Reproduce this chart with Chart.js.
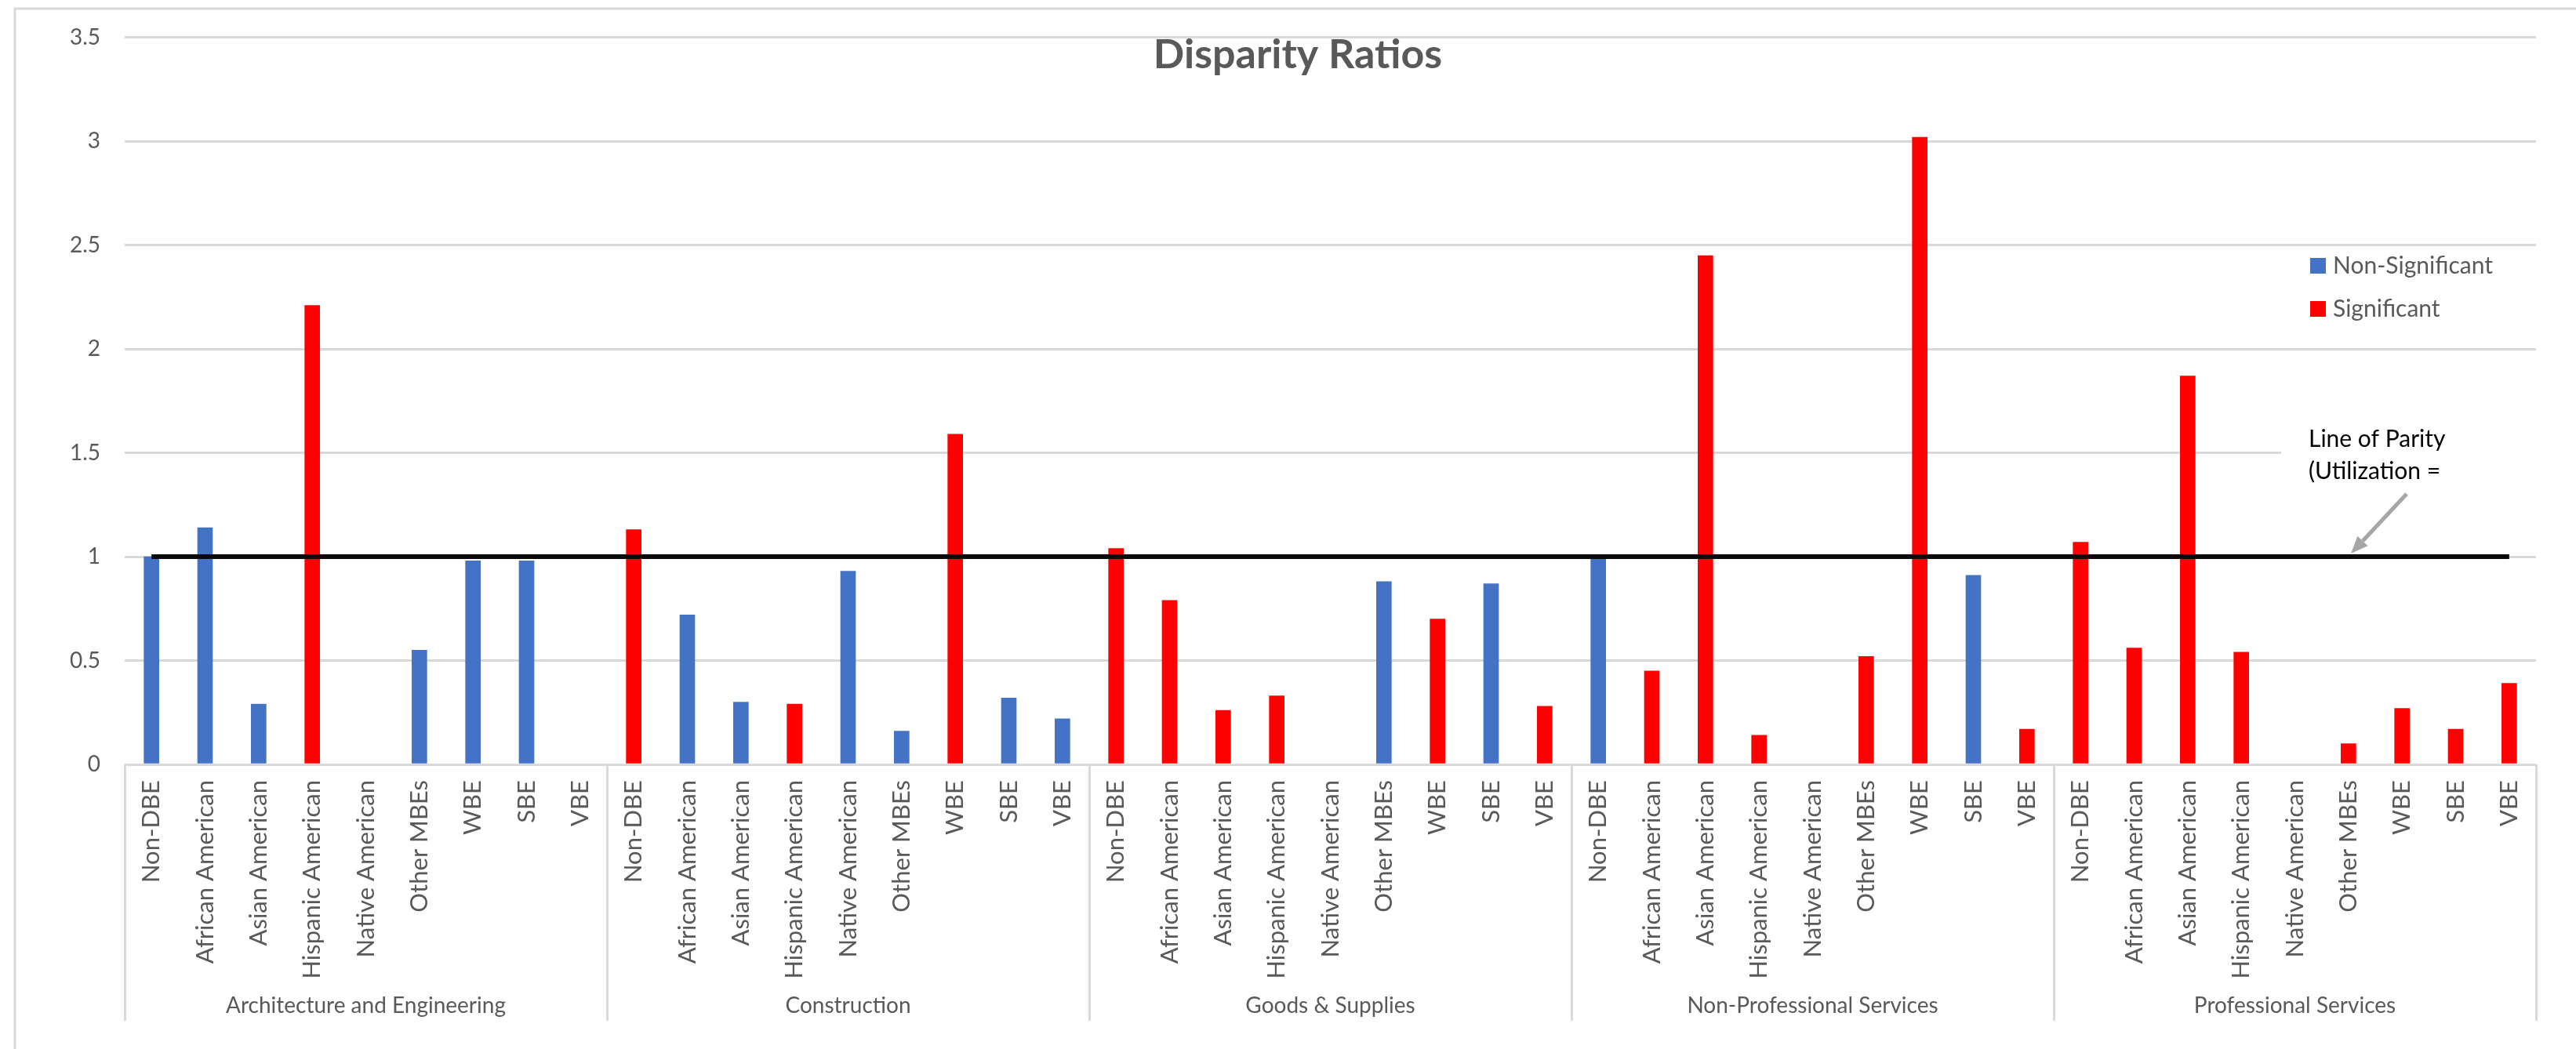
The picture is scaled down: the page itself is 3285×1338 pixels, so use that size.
<!DOCTYPE html>
<html>
<head>
<meta charset="utf-8">
<title>Disparity Ratios</title>
<script src="https://cdn.jsdelivr.net/npm/chart.js@4/dist/chart.umd.min.js"></script>
<style>
  html, body { margin: 0; padding: 0; background: #ffffff; }
  #wrap { width: 3285px; height: 1338px; position: relative; }
</style>
</head>
<body>
<div id="wrap"><canvas id="chart"></canvas></div>
<script>
// Industry groups and the business categories shown inside each group
const groups = ['Architecture and Engineering', 'Construction', 'Goods & Supplies', 'Non-Professional Services', 'Professional Services'];
const subgroups = ['Non-DBE', 'African American', 'Asian American', 'Hispanic American', 'Native American', 'Other MBEs', 'WBE', 'SBE', 'VBE'];

// Disparity ratios not statistically significant (null = no bar in that slot)
const nonSignificant = [
  1.00, 1.14, 0.29, null, null, 0.55, 0.98, 0.98, null,   // Architecture and Engineering
  null, 0.72, 0.30, null, 0.93, 0.16, null, 0.32, 0.22,   // Construction
  null, null, null, null, null, 0.88, null, 0.87, null,   // Goods & Supplies
  0.99, null, null, null, null, null, null, 0.91, null,   // Non-Professional Services
  null, null, null, null, null, null, null, null, null    // Professional Services
];

// Disparity ratios that are statistically significant
const significant = [
  null, null, null, 2.21, null, null, null, null, null,
  1.13, null, null, 0.29, null, null, 1.59, null, null,
  1.04, 0.79, 0.26, 0.33, null, null, 0.70, null, 0.28,
  null, 0.45, 2.45, 0.14, null, 0.52, 3.02, null, 0.17,
  1.07, 0.56, 1.87, 0.54, null, 0.10, 0.27, 0.17, 0.39
];

// Value axis ticks and the parity reference level
const yTicks = [0, 0.5, 1, 1.5, 2, 2.5, 3, 3.5];
const parityLevel = 1;

const chartTitle = 'Disparity Ratios';
const parityNote = ['Line of Parity', '(Utilization ='];

// One category per (group, subgroup) pair
const labels = [];
groups.forEach(() => subgroups.forEach(s => labels.push(s)));
const parityLine = labels.map(() => parityLevel);

const FONT = 'Lato, "Open Sans", "Liberation Sans", sans-serif';
const GREY_TEXT = '#595959';
const GRID = '#D9D9D9';
const AXIS_H = 327;

// White page, thin frame at top and left
const framePlugin = {
  id: 'frame',
  beforeDraw(chart) {
    const c = chart.ctx;
    c.save();
    c.fillStyle = '#ffffff';
    c.fillRect(0, 0, chart.width, chart.height);
    c.strokeStyle = GRID;
    c.lineWidth = 3;
    c.beginPath();
    c.moveTo(19, chart.height);
    c.lineTo(19, 11);
    c.lineTo(chart.width, 11);
    c.stroke();
    c.restore();
  }
};

// Title drawn over the top of the plot area
const titlePlugin = {
  id: 'overTitle',
  afterDraw(chart) {
    const c = chart.ctx;
    c.save();
    c.font = 'bold 52px ' + FONT;
    c.fillStyle = GREY_TEXT;
    c.textAlign = 'center';
    c.textBaseline = 'alphabetic';
    c.fillText(chartTitle, 1655, 87);
    c.restore();
  }
};

// Second level of the category axis: group dividers and group names
const groupAxisPlugin = {
  id: 'groupAxis',
  afterDraw(chart) {
    const x = chart.scales.x;
    const c = chart.ctx;
    const top = chart.chartArea.bottom;
    const bottom = top + AXIS_H;
    const n = labels.length;
    const step = (x.right - x.left) / n;
    c.save();
    c.strokeStyle = GRID;
    c.lineWidth = 3;
    for (let gi = 0; gi <= groups.length; gi++) {
      const px = Math.round(x.left + gi * subgroups.length * step) + 0.5;
      c.beginPath();
      c.moveTo(px, top);
      c.lineTo(px, bottom);
      c.stroke();
    }
    c.font = '28px ' + FONT;
    c.fillStyle = GREY_TEXT;
    c.textAlign = 'center';
    c.textBaseline = 'middle';
    groups.forEach((g, gi) => {
      const cx = x.left + (gi + 0.5) * subgroups.length * step;
      c.fillText(g, cx, 1283);
    });
    c.restore();
  }
};

// Legend box in the upper right of the plot
const legendPlugin = {
  id: 'sideLegend',
  afterDraw(chart) {
    const c = chart.ctx;
    const items = chart.data.datasets.filter(d => d.type !== 'line');
    c.save();
    c.font = '30px ' + FONT;
    c.textBaseline = 'middle';
    c.textAlign = 'left';
    items.forEach((d, i) => {
      const cy = 339 + i * 55;
      c.fillStyle = d.backgroundColor;
      c.fillRect(2946, cy - 10, 20, 20);
      c.fillStyle = GREY_TEXT;
      c.fillText(d.label, 2975, cy);
    });
    c.restore();
  }
};

// Callout for the parity line: text box with an arrow pointing at the line
const parityNotePlugin = {
  id: 'parityNote',
  beforeDatasetsDraw(chart) {
    const c = chart.ctx;
    c.save();
    c.fillStyle = '#ffffff';
    c.fillRect(2909, 520, chart.chartArea.right - 2909 + 4, 120);
    c.restore();
  },
  afterDatasetsDraw(chart) {
    const c = chart.ctx;
    c.save();
    c.font = '30px ' + FONT;
    c.fillStyle = '#000000';
    c.textAlign = 'left';
    c.textBaseline = 'alphabetic';
    c.fillText(parityNote[0], 2944, 570);
    c.fillText(parityNote[1], 2944, 611);

    const y = chart.scales.y.getPixelForValue(parityLevel);
    const x0 = 3069, y0 = 630, x1 = 2998, y1 = y - 4;
    const ang = Math.atan2(y1 - y0, x1 - x0);
    const head = 22, half = 9;
    const bx = x1 - head * Math.cos(ang), by = y1 - head * Math.sin(ang);
    c.strokeStyle = '#A6A6A6';
    c.fillStyle = '#A6A6A6';
    c.lineWidth = 5;
    c.beginPath();
    c.moveTo(x0, y0);
    c.lineTo(bx, by);
    c.stroke();
    c.beginPath();
    c.moveTo(x1, y1);
    c.lineTo(bx + half * Math.sin(ang), by - half * Math.cos(ang));
    c.lineTo(bx - half * Math.sin(ang), by + half * Math.cos(ang));
    c.closePath();
    c.fill();
    c.restore();
  }
};

new Chart(document.getElementById('chart'), {
  type: 'bar',
  data: {
    labels: labels,
    datasets: [
      {
        label: 'Non-Significant',
        data: nonSignificant,
        backgroundColor: '#4472C4',
        barThickness: 19,
        grouped: false,
        order: 2
      },
      {
        label: 'Significant',
        data: significant,
        backgroundColor: '#FF0000',
        barThickness: 19,
        grouped: false,
        order: 1
      },
      {
        type: 'line',
        label: 'Line of Parity',
        data: parityLine,
        borderColor: '#0a0a0a',
        borderWidth: 6,
        pointRadius: 0,
        fill: false,
        order: 0
      }
    ]
  },
  options: {
    responsive: true,
    maintainAspectRatio: false,
    animation: false,
    devicePixelRatio: 1,
    layout: { padding: { left: 0, top: 38, right: 51, bottom: 36 } },
    plugins: {
      legend: { display: false },
      title: { display: false },
      tooltip: { enabled: false }
    },
    scales: {
      x: {
        grid: { display: false, drawTicks: false },
        border: { display: false },
        ticks: {
          autoSkip: false,
          maxRotation: 90,
          minRotation: 90,
          padding: 20,
          color: GREY_TEXT,
          font: { family: FONT, size: 31 }
        },
        afterFit(scale) { scale.height = AXIS_H; }
      },
      y: {
        min: yTicks[0],
        max: yTicks[yTicks.length - 1],
        afterBuildTicks(scale) { scale.ticks = yTicks.map(v => ({ value: v })); },
        grid: { color: GRID, lineWidth: 3, drawTicks: false },
        border: { display: false },
        ticks: {
          padding: 31,
          color: GREY_TEXT,
          font: { family: FONT, size: 28 },
          callback: v => String(v)
        },
        afterFit(scale) { scale.width = 159; }
      }
    }
  },
  plugins: [framePlugin, parityNotePlugin, groupAxisPlugin, legendPlugin, titlePlugin]
});
</script>
</body>
</html>
